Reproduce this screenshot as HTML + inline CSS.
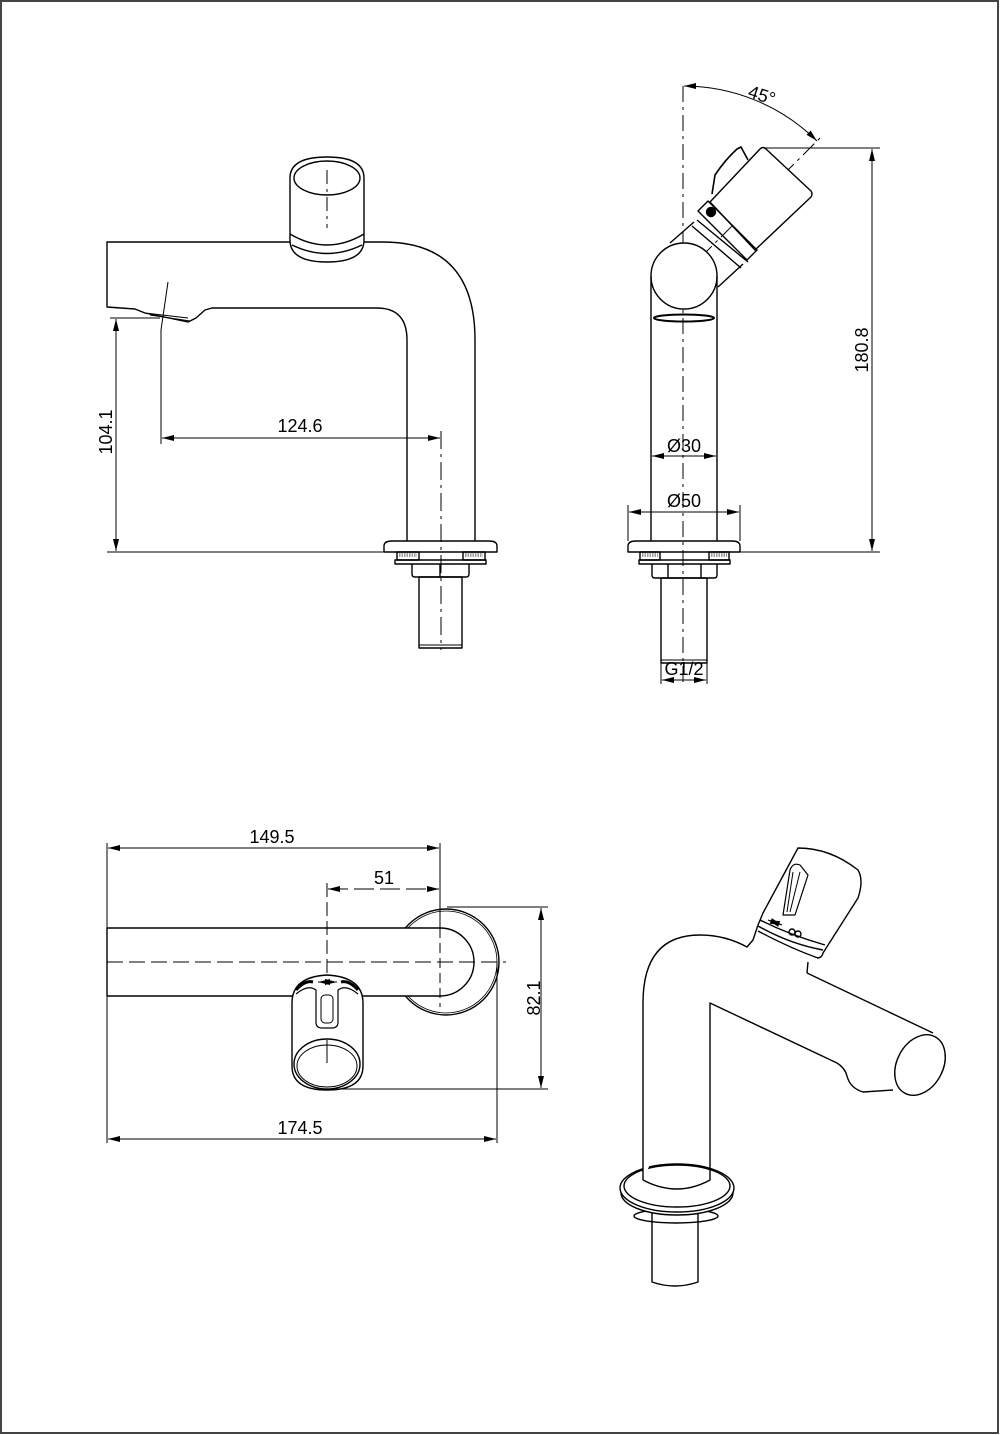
<!DOCTYPE html>
<html><head><meta charset="utf-8"><style>
html,body{margin:0;padding:0;background:#fff;}
svg{display:block;}
text{font-family:"Liberation Sans",sans-serif;font-size:18px;fill:#000;}
</style></head><body>
<svg width="1000" height="1435" viewBox="0 0 1000 1435" xmlns="http://www.w3.org/2000/svg">
<defs>
<marker id="a" viewBox="0 0 12 6" refX="12" refY="3" markerWidth="12" markerHeight="6" orient="auto-start-reverse" markerUnits="userSpaceOnUse"><path d="M0,0 L12,3 L0,6 Z" fill="#000"/></marker>
</defs>
<rect x="1" y="1" width="997" height="1432" fill="none" stroke="#444" stroke-width="2"/>
<g fill="none" stroke="#000" stroke-width="1.4" stroke-linejoin="round">

<path d="M290,178 Q290,157 327,157 Q364,157 364,178 L364,240 Q364,262 327,262 Q290,262 290,240 Z"/>
<ellipse cx="327" cy="178" rx="33" ry="17"/>
<path d="M290,234 Q327,256 364,234"/>
<path d="M292,245 Q327,262 362,245"/>
<line x1="327" y1="170" x2="327" y2="228" stroke-width="1" stroke-dasharray="14,5,3,5"/>
<path d="M290,242 L107,242 L107,307 L135,309 L145,313 L188,322 L196,318 L205,310 L212,308 L377,308 Q407,308 407,340 L407,541"/>
<path d="M364,242 L383,242 Q475,242 475,340 L475,541"/>
<path d="M145,313 L188,318 M150,315 L190,321" stroke-width="1"/>
<path d="M384,552 L384,546 Q384,541 392,541 L489,541 Q497,541 497,546 L497,552 Z"/>
<rect x="397" y="552" width="22" height="8"/>
<rect x="463" y="552" width="22" height="8"/>
<path d="M399,554 h18 M399,556 h18 M465,554 h18 M465,556 h18" stroke-width="0.8" stroke-dasharray="1.5,1"/>
<rect x="395" y="560" width="91" height="4"/>
<path d="M412,564 L412,574 Q412,577 415,577 L466,577 Q469,577 469,574 L469,564"/>
<path d="M440,564 L440,577"/>
<rect x="419" y="577" width="43" height="71"/>
<line x1="419" y1="645" x2="462" y2="645" stroke-width="1"/>
<line x1="441" y1="431" x2="441" y2="650" stroke-width="1" stroke-dasharray="18,5,3,5"/>
<line x1="107" y1="552" x2="384" y2="552" stroke-width="1"/>
<line x1="110" y1="318" x2="160" y2="318" stroke-width="1"/>
<line x1="116" y1="319" x2="116" y2="551" stroke-width="1" marker-start="url(#a)" marker-end="url(#a)"/>
<path d="M168,282 L161,330 L161,444" stroke-width="1"/>
<line x1="162" y1="438" x2="440" y2="438" stroke-width="1" marker-start="url(#a)" marker-end="url(#a)"/>

<line x1="683" y1="86" x2="683" y2="682" stroke-width="1" stroke-dasharray="16,5,3,5"/>
<path d="M684,86 A190,190 0 0 1 817,141" stroke-width="1" marker-start="url(#a)" marker-end="url(#a)"/>
<line x1="680" y1="278" x2="822" y2="136" stroke-width="1" stroke-dasharray="16,5,3,5"/>
<line x1="763" y1="148" x2="880" y2="148" stroke-width="1"/>
<line x1="740" y1="552" x2="880" y2="552" stroke-width="1"/>
<line x1="872" y1="149" x2="872" y2="551" stroke-width="1" marker-start="url(#a)" marker-end="url(#a)"/>
<path d="M710,202 L760,149 Q763,146 766,149 L811,191 Q813,194 811,197 L755,250 Z" fill="#fff"/>
<path d="M698,211 L708,201 L757,250 L747,260 Z"/>
<path d="M697,220 L748,262 M692,226 L741,268"/>
<path d="M670,243 L694,222 M718,287 L743,264"/>
<path d="M712,194 L715,175 Q725,160 737,149 L741,147 L748,160" stroke-width="1.6"/>
<circle cx="711" cy="212" r="4.5" fill="#000"/>
<circle cx="684" cy="276" r="33" fill="#fff"/>
<path d="M651,276 L651,541 M717,276 L717,541"/>
<ellipse cx="684" cy="318" rx="30" ry="3.5" stroke-width="2"/>
<path d="M628,552 L628,546 Q628,541 636,541 L732,541 Q740,541 740,546 L740,552 Z"/>
<rect x="640" y="552" width="20" height="8"/>
<rect x="709" y="552" width="20" height="8"/>
<path d="M642,554 h16 M642,556 h16 M711,554 h16 M711,556 h16" stroke-width="0.8" stroke-dasharray="1.5,1"/>
<rect x="639" y="560" width="91" height="4"/>
<path d="M652,564 L652,575 Q652,578 655,578 L714,578 Q717,578 717,575 L717,564 M668,564 L668,578 M701,564 L701,578"/>
<rect x="661" y="578" width="46" height="85"/>
<line x1="661" y1="660" x2="707" y2="660" stroke-width="1"/>
<line x1="661" y1="663" x2="661" y2="684" stroke-width="1"/>
<line x1="707" y1="663" x2="707" y2="684" stroke-width="1"/>
<line x1="662" y1="680" x2="706" y2="680" stroke-width="1" marker-start="url(#a)" marker-end="url(#a)"/>
<line x1="652" y1="456" x2="716" y2="456" stroke-width="1" marker-start="url(#a)" marker-end="url(#a)"/>
<line x1="628" y1="505" x2="628" y2="541" stroke-width="1"/>
<line x1="740" y1="505" x2="740" y2="541" stroke-width="1"/>
<line x1="629" y1="512" x2="739" y2="512" stroke-width="1" marker-start="url(#a)" marker-end="url(#a)"/>

<circle cx="446" cy="962" r="53"/>
<circle cx="446" cy="962" r="51" stroke-width="0.8"/>
<path d="M107,928 L440,928 A34,34 0 0 1 440,996 L107,996 Z" fill="#fff"/>
<line x1="107" y1="962" x2="506" y2="962" stroke-width="1" stroke-dasharray="16,6"/>
<line x1="440" y1="843" x2="440" y2="928" stroke-width="1"/>
<line x1="440" y1="928" x2="440" y2="1007" stroke-width="1" stroke-dasharray="10,5"/>
<line x1="107" y1="843" x2="107" y2="1143" stroke-width="1"/>
<line x1="108" y1="848" x2="439" y2="848" stroke-width="1" marker-start="url(#a)" marker-end="url(#a)"/>
<line x1="328" y1="889" x2="439" y2="889" stroke-width="1" stroke-dasharray="20,6" marker-start="url(#a)" marker-end="url(#a)"/>
<line x1="327" y1="883" x2="327" y2="1063" stroke-width="1" stroke-dasharray="14,5"/>
<path d="M292,1003 Q292,977 327,975 Q363,977 363,1003 L363,1066 Q363,1090 327,1090 Q292,1090 292,1066 Z" fill="#fff"/>
<ellipse cx="327" cy="1064" rx="33" ry="25"/>
<ellipse cx="327" cy="1066" rx="30" ry="21" stroke-width="1"/>
<path d="M296,994 Q308,984 316,990 L316,1022 Q316,1028 322,1028 L332,1028 Q338,1028 338,1022 L338,990 Q346,984 358,994" stroke-width="1.2"/>
<rect x="321" y="995" width="12" height="28" rx="4" stroke-width="1"/>
<path d="M296,990 Q305,980 313,982 M358,990 Q349,980 341,982" stroke-width="3"/>
<line x1="318" y1="982" x2="337" y2="982" stroke-width="1" marker-start="url(#a)" marker-end="url(#a)"/>
<line x1="327" y1="1040" x2="327" y2="1063" stroke-width="1"/>
<line x1="447" y1="907" x2="548" y2="907" stroke-width="1"/>
<line x1="330" y1="1089" x2="548" y2="1089" stroke-width="1"/>
<line x1="541" y1="908" x2="541" y2="1088" stroke-width="1" marker-start="url(#a)" marker-end="url(#a)"/>
<line x1="497" y1="962" x2="497" y2="1143" stroke-width="1"/>
<line x1="108" y1="1139" x2="496" y2="1139" stroke-width="1" marker-start="url(#a)" marker-end="url(#a)"/>

<path d="M652,1213 L652,1282 Q675,1290 698,1282 L698,1213"/>
<ellipse cx="676" cy="1216" rx="42" ry="7"/>
<ellipse cx="677" cy="1193" rx="56" ry="22" fill="#fff"/>
<ellipse cx="677" cy="1188" rx="57" ry="24" fill="#fff"/>
<ellipse cx="677" cy="1186" rx="53" ry="21"/>
<path d="M643,1180 L643,1003 Q643,935 700,935 Q725,935 747,947 L753,940 L758,925" fill="#fff"/>
<path d="M643,1180 Q677,1198 710,1180 L710,1003 L837,1063 Q845,1068 847,1076 Q850,1088 863,1092 L893,1090"/>
<path d="M807,973 L808,962 M807,973 L933,1033"/>
<ellipse cx="920" cy="1065" rx="23" ry="32" transform="rotate(28 920 1065)" fill="#fff"/>
<path d="M758,925 L763,913 L798,848 Q830,848 858,870 Q864,880 858,898 L823,953 Q822,958 817,958" fill="#fff"/>
<path d="M758,926 Q790,944 823,950 M758,931 Q790,948 818,958"/>
<path d="M760,920 Q790,935 825,945"/>
<path d="M783,915 L790,870 Q793,862 800,865 L808,875 L795,915 Z" stroke-width="1.2"/>
<path d="M787,912 L793,872 M800,872 L790,912" stroke-width="1"/>
<line x1="768" y1="920" x2="782" y2="925" stroke-width="1" marker-start="url(#a)" marker-end="url(#a)"/>
<circle cx="792" cy="932" r="3"/>
<circle cx="798" cy="934" r="3"/>
</g>

<text x="300" y="432" text-anchor="middle">124.6</text>
<text transform="translate(112,432) rotate(-90)" text-anchor="middle">104.1</text>
<text transform="translate(760,101) rotate(18)" text-anchor="middle">45°</text>
<text transform="translate(868,350) rotate(-90)" text-anchor="middle">180.8</text>
<text x="684" y="452" text-anchor="middle">Ø30</text>
<text x="684" y="507" text-anchor="middle">Ø50</text>
<text x="684" y="675" text-anchor="middle">G1/2</text>
<text x="272" y="843" text-anchor="middle">149.5</text>
<text x="384" y="884" text-anchor="middle">51</text>
<text transform="translate(540,998) rotate(-90)" text-anchor="middle">82.1</text>
<text x="300" y="1134" text-anchor="middle">174.5</text>
</svg>
</body></html>
